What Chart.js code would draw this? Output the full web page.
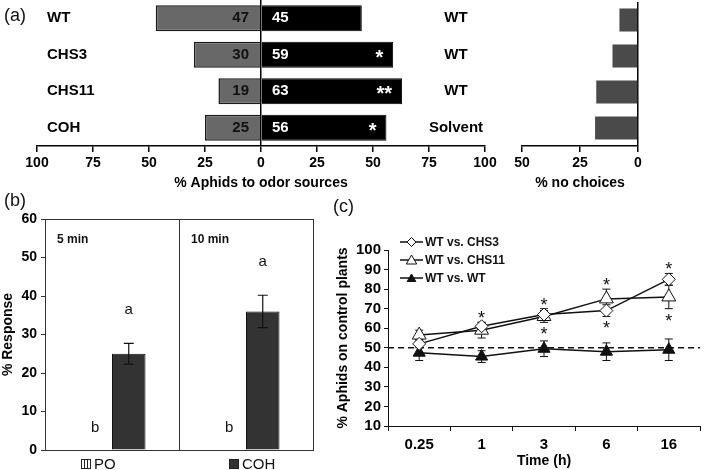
<!DOCTYPE html>
<html>
<head>
<meta charset="utf-8">
<script src="https://cdn.jsdelivr.net/npm/chart.js@4.4.0/dist/chart.umd.min.js"></script>
<style>
  body { margin: 0; background: #fff; }
  #fig { position: relative; width: 709px; height: 470px; overflow: hidden; font-family: 'Liberation Sans', Arial, sans-serif; }
  #fig canvas { position: absolute; }
  .tag { position: absolute; font-size: 18px; color: #111; }
</style>
</head>
<body>
<div id="fig">
  <canvas id="odor" width="500" height="195" style="left:0;top:0"></canvas>
  <canvas id="nochoice" width="209" height="195" style="left:500px;top:0"></canvas>
  <canvas id="resp" width="330" height="270" style="left:0;top:200px"></canvas>
  <canvas id="time" width="379" height="280" style="left:330px;top:190px"></canvas>
  <div class="tag" style="left:4px;top:5px">(a)</div>
  <div class="tag" style="left:4px;top:190px">(b)</div>
  <div class="tag" style="left:333px;top:196px">(c)</div>
</div>
<script>
// (a) olfactometer choices
const odorCats = ['WT', 'CHS3', 'CHS11', 'COH'];
const pairLabels = ['WT', 'WT', 'WT', 'Solvent'];
const odorLeft = [47, 30, 19, 25];
const odorRight = [45, 59, 63, 56];
const odorStars = ['', '*', '**', '*'];
const noChoice = [8, 11, 18, 18.5];

// (b) response to COH
const timeCats = ['5 min', '10 min'];
const poResp = [0, 0];
const cohResp = [25, 36];
const cohErr = [2.7, 4.2];
const poLetters = ['b', 'b'];
const cohLetters = ['a', 'a'];

// (c) time course
const hours = ['0.25', '1', '3', '6', '16'];
const chs3 = [52, 61, 67, 69, 85];
const chs3Err = [2, 2, 3, 3, 3];
const chs3Sig = ['', 'up', 'up', 'down', 'up'];
const chs11 = [56.5, 59, 66, 75, 76];
const chs11Err = [2.5, 4, 3, 5, 6];
const chs11Sig = ['', '', 'down', 'up', 'down'];
const wtwt = [47.5, 45.5, 49.5, 48, 49];
const wtwtErr = [4, 3, 4, 4.5, 5.5];

const FONT = "'Liberation Sans', Arial, sans-serif";
Chart.defaults.font.family = FONT;
Chart.defaults.color = '#000';
Chart.defaults.animation = false;
Chart.defaults.responsive = false;
Chart.defaults.plugins.legend.display = false;
Chart.defaults.plugins.tooltip.enabled = false;
Chart.defaults.plugins.colors = { enabled: false };

const onlyAt = (v, col) => c => (c.tick && c.tick.value === v ? col : 'rgba(0,0,0,0)');

// text inside panel (a)
const odorText = {
  id: 'odorText',
  afterDatasetsDraw(chart) {
    const { ctx } = chart;
    const x = chart.scales.x, y = chart.scales.y;
    const x0 = x.getPixelForValue(0);
    ctx.save();
    odorCats.forEach((cat, i) => {
      const yc = y.getPixelForValue(i);
      ctx.textBaseline = 'middle';
      ctx.font = 'bold 15px ' + FONT;
      ctx.fillStyle = '#000';
      ctx.textAlign = 'left';
      ctx.fillText(cat, 47, yc);
      ctx.textAlign = 'center';
      ctx.fillText(pairLabels[i], 456, yc);
      ctx.fillStyle = '#111';
      ctx.textAlign = 'right';
      ctx.fillText(odorLeft[i], x0 - 12, yc);
      ctx.fillStyle = '#fff';
      ctx.textAlign = 'left';
      ctx.fillText(odorRight[i], x0 + 11, yc);
      if (odorStars[i]) {
        ctx.font = 'bold 20px ' + FONT;
        ctx.textAlign = 'right';
        ctx.textBaseline = 'alphabetic';
        ctx.fillText(odorStars[i], x.getPixelForValue(odorRight[i]) - 10, yc + 9);
      }
    });
    ctx.restore();
  }
};

new Chart(document.getElementById('odor'), {
  type: 'bar',
  data: {
    labels: odorCats,
    datasets: [
      { label: 'odor', data: odorLeft.map(v => -v), backgroundColor: '#686868', borderColor: '#1a1a1a', borderWidth: 1.5 },
      { label: 'control', data: odorRight, backgroundColor: '#000', borderColor: '#000', borderWidth: 1 }
    ]
  },
  options: {
    indexAxis: 'y',
    layout: { padding: { left: 37, right: 15, top: 0, bottom: 0 } },
    datasets: { bar: { categoryPercentage: 0.71, barPercentage: 1 } },
    scales: {
      y: { stacked: true, display: false },
      x: {
        stacked: true, min: -100, max: 100,
        ticks: { stepSize: 25, callback: v => Math.abs(v), font: { size: 14, weight: 'bold' }, padding: 3 },
        grid: { color: onlyAt(0, '#000'), lineWidth: 1.5, tickColor: '#000', tickLength: 6 },
        border: { color: '#000', width: 1.5 },
        title: { display: true, text: '% Aphids to odor sources', font: { size: 14, weight: 'bold' }, padding: { top: 2, bottom: 3 } },
        afterFit: s => { s.height = 49; }
      }
    }
  },
  plugins: [odorText]
});

new Chart(document.getElementById('nochoice'), {
  type: 'bar',
  data: {
    labels: odorCats,
    datasets: [{ label: 'no choice', data: noChoice, backgroundColor: '#4a4a4a', borderColor: '#4a4a4a', borderWidth: 0 }]
  },
  options: {
    indexAxis: 'y',
    layout: { padding: { left: 22, right: 71, top: 2, bottom: 0 } },
    datasets: { bar: { categoryPercentage: 0.64, barPercentage: 1 } },
    scales: {
      y: { display: false },
      x: {
        min: 0, max: 50, reverse: true,
        ticks: { stepSize: 25, font: { size: 14, weight: 'bold' }, padding: 3 },
        grid: { color: onlyAt(0, '#000'), lineWidth: 1.5, tickColor: '#000', tickLength: 6 },
        border: { color: '#000', width: 1.5 },
        title: { display: true, text: '% no choices', font: { size: 14, weight: 'bold' }, padding: { top: 2, bottom: 3 } },
        afterFit: s => { s.height = 49; }
      }
    }
  }
});

// error bars, letters and legend for panel (b)
const respDeco = {
  id: 'respDeco',
  afterDatasetsDraw(chart) {
    const { ctx, chartArea } = chart;
    const x = chart.scales.x, y = chart.scales.y;
    const half = (chartArea.right - chartArea.left) / timeCats.length / 2;
    ctx.save();
    ctx.strokeStyle = '#111';
    ctx.lineWidth = 1.2;
    chart.getDatasetMeta(1).data.forEach((bar, i) => {
      const t = y.getPixelForValue(cohResp[i] + cohErr[i]);
      const b = y.getPixelForValue(cohResp[i] - cohErr[i]);
      ctx.beginPath();
      ctx.moveTo(bar.x, t); ctx.lineTo(bar.x, b);
      ctx.moveTo(bar.x - 5, t); ctx.lineTo(bar.x + 5, t);
      ctx.moveTo(bar.x - 5, b); ctx.lineTo(bar.x + 5, b);
      ctx.stroke();
      ctx.fillStyle = '#111';
      ctx.font = '15px ' + FONT;
      ctx.textAlign = 'center';
      ctx.textBaseline = 'middle';
      ctx.fillText(cohLetters[i], bar.x, t - 33);
    });
    chart.getDatasetMeta(0).data.forEach((bar, i) => {
      ctx.fillText(poLetters[i], bar.x, y.getPixelForValue(poResp[i]) - 22);
    });
    ctx.font = 'bold 12px ' + FONT;
    ctx.textAlign = 'left';
    timeCats.forEach((t, i) => {
      ctx.fillText(t, x.getPixelForValue(i) - half + 12, chartArea.top + 21);
    });
    // legend
    const ly = chart.height - 6;
    const items = [
      { lx: 81, fill: '#fff', text: chart.data.datasets[0].label },
      { lx: 229, fill: '#333', text: chart.data.datasets[1].label }
    ];
    ctx.font = '15px ' + FONT;
    items.forEach(it => {
      ctx.fillStyle = it.fill;
      ctx.fillRect(it.lx, ly - 5, 9, 9);
      ctx.strokeStyle = '#222';
      ctx.lineWidth = 1;
      ctx.strokeRect(it.lx + 0.5, ly - 4.5, 9, 9);
      if (it.fill === '#fff') {
        ctx.beginPath(); ctx.moveTo(it.lx + 3.5, ly - 4); ctx.lineTo(it.lx + 3.5, ly + 4);
        ctx.moveTo(it.lx + 6.5, ly - 4); ctx.lineTo(it.lx + 6.5, ly + 4); ctx.stroke();
      }
      ctx.fillStyle = '#111';
      ctx.fillText(it.text, it.lx + 13, ly + 1);
    });
    ctx.restore();
  }
};

new Chart(document.getElementById('resp'), {
  type: 'bar',
  data: {
    labels: timeCats,
    datasets: [
      { label: 'PO', data: poResp, backgroundColor: '#fff', borderColor: '#222', borderWidth: 1 },
      { label: 'COH', data: cohResp, backgroundColor: '#333', borderColor: '#111', borderWidth: 1 }
    ]
  },
  options: {
    layout: { padding: { left: 0, right: 17, top: 19, bottom: 0 } },
    datasets: { bar: { categoryPercentage: 0.5, barPercentage: 1 } },
    scales: {
      x: {
        ticks: { display: false },
        grid: { color: '#333', drawTicks: false, lineWidth: 1 },
        border: { color: '#333', width: 1 },
        afterFit: s => { s.height = 20; }
      },
      y: {
        min: 0, max: 60,
        ticks: { stepSize: 10, font: { size: 14, weight: 'bold' }, padding: 4 },
        grid: { color: onlyAt(60, '#333'), tickColor: '#333', tickLength: 4 },
        border: { color: '#333', width: 1 },
        title: { display: true, text: '% Response', font: { size: 14, weight: 'bold' }, padding: { top: 0, bottom: 0 } },
        afterFit: s => { s.width = 45; }
      }
    }
  },
  plugins: [respDeco]
});

// panel (c)
const seriesC = [
  { vals: chs3, err: chs3Err, sig: chs3Sig, style: 'diamond', fill: '#fff', r: 6.5 },
  { vals: chs11, err: chs11Err, sig: chs11Sig, style: 'triangle', fill: '#fff', r: 8 },
  { vals: wtwt, err: wtwtErr, sig: [], style: 'triangle', fill: '#111', r: 7 }
];

function drawMarker(ctx, style, x, y, r, fill) {
  ctx.beginPath();
  if (style === 'diamond') {
    ctx.moveTo(x, y - r); ctx.lineTo(x + r, y); ctx.lineTo(x, y + r); ctx.lineTo(x - r, y);
  } else {
    const h = r * 0.866;
    ctx.moveTo(x, y - r); ctx.lineTo(x + h, y + r / 2); ctx.lineTo(x - h, y + r / 2);
  }
  ctx.closePath();
  ctx.fillStyle = fill;
  ctx.fill();
  ctx.strokeStyle = '#111';
  ctx.lineWidth = 1;
  ctx.stroke();
}

const timeDeco = {
  id: 'timeDeco',
  beforeDatasetsDraw(chart) {
    const { ctx, chartArea } = chart;
    const y = chart.scales.y;
    ctx.save();
    ctx.strokeStyle = '#111';
    ctx.lineWidth = 1.5;
    ctx.setLineDash([6, 4]);
    const yl = y.getPixelForValue(50);
    ctx.beginPath(); ctx.moveTo(chartArea.left, yl); ctx.lineTo(chartArea.right, yl); ctx.stroke();
    ctx.setLineDash([]);
    ctx.lineWidth = 1;
    seriesC.forEach((s, di) => {
      chart.getDatasetMeta(di).data.forEach((pt, i) => {
        const t = y.getPixelForValue(s.vals[i] + s.err[i]);
        const b = y.getPixelForValue(s.vals[i] - s.err[i]);
        ctx.beginPath();
        ctx.moveTo(pt.x, t); ctx.lineTo(pt.x, b);
        ctx.moveTo(pt.x - 4, t); ctx.lineTo(pt.x + 4, t);
        ctx.moveTo(pt.x - 4, b); ctx.lineTo(pt.x + 4, b);
        ctx.stroke();
      });
    });
    ctx.restore();
  },
  afterDatasetsDraw(chart) {
    const { ctx } = chart;
    const y = chart.scales.y;
    ctx.save();
    ctx.fillStyle = '#111';
    ctx.font = '18px ' + FONT;
    ctx.textAlign = 'center';
    ctx.textBaseline = 'alphabetic';
    seriesC.forEach((s, di) => {
      chart.getDatasetMeta(di).data.forEach((pt, i) => {
        if (s.sig[i] === 'up') {
          ctx.fillText('*', pt.x, y.getPixelForValue(s.vals[i] + s.err[i]) - 8 + 10);
        } else if (s.sig[i] === 'down') {
          ctx.fillText('*', pt.x, y.getPixelForValue(s.vals[i] - s.err[i]) + 8 + 10);
        }
      });
    });
    // legend
    ctx.font = 'bold 12px ' + FONT;
    ctx.textAlign = 'left';
    ctx.textBaseline = 'middle';
    seriesC.forEach((s, di) => {
      const ly = 52 + di * 18;
      ctx.strokeStyle = '#111';
      ctx.lineWidth = 1.5;
      ctx.beginPath(); ctx.moveTo(70, ly); ctx.lineTo(93, ly); ctx.stroke();
      drawMarker(ctx, s.style, 81.5, ly + (s.style === 'triangle' ? 1 : 0), s.r - 2, s.fill);
      ctx.fillStyle = '#111';
      ctx.fillText(chart.data.datasets[di].label, 95, ly + 1);
    });
    ctx.restore();
  }
};

const lineStyle = { borderColor: '#111', backgroundColor: '#111', borderWidth: 1.5, pointBorderColor: '#111', pointBorderWidth: 1 };

new Chart(document.getElementById('time'), {
  type: 'line',
  data: {
    labels: hours,
    datasets: [
      { ...lineStyle, label: 'WT vs. CHS3', data: chs3, pointStyle: 'rectRot', pointRadius: 6.5, pointBackgroundColor: '#fff' },
      { ...lineStyle, label: 'WT vs. CHS11', data: chs11, pointStyle: 'triangle', pointRadius: 8, pointBackgroundColor: '#fff' },
      { ...lineStyle, label: 'WT vs. WT', data: wtwt, pointStyle: 'triangle', pointRadius: 7, pointBackgroundColor: '#111' }
    ]
  },
  options: {
    layout: { padding: { left: 0, right: 2, top: 60, bottom: 0 } },
    scales: {
      x: {
        offset: true,
        ticks: { font: { size: 15, weight: 'bold' }, padding: 5 },
        grid: { offset: true, drawOnChartArea: false, tickColor: '#111', tickLength: 5 },
        border: { color: '#111', width: 1 },
        title: { display: true, text: 'Time (h)', font: { size: 14, weight: 'bold' }, padding: { top: 0, bottom: 0 } },
        afterFit: s => { s.height = 44; }
      },
      y: {
        min: 10, max: 100,
        ticks: { stepSize: 10, autoSkip: false, font: { size: 15, weight: 'bold' }, padding: 3 },
        grid: { drawOnChartArea: false, tickColor: '#111', tickLength: 4 },
        border: { color: '#111', width: 1 },
        title: { display: true, text: '% Aphids on control plants', font: { size: 14, weight: 'bold' }, padding: { top: 5, bottom: 0 } },
        afterFit: s => { s.width = 58; }
      }
    }
  },
  plugins: [timeDeco]
});
</script>
</body>
</html>
